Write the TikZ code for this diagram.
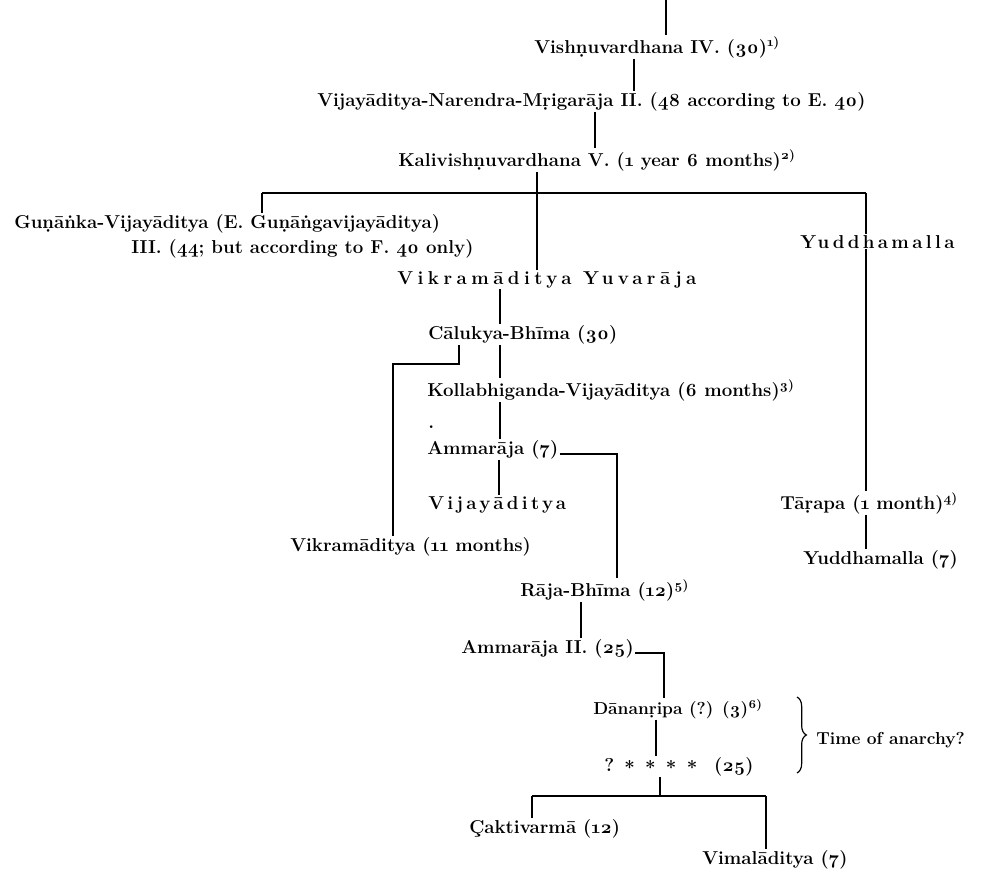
\documentclass[tikz,border=0pt]{standalone}
\usepackage{fontspec}
\setmainfont{Latin Modern Roman}[Numbers=OldStyle]
\usetikzlibrary{decorations.pathreplacing}
\newcommand{\spaced}[2][18]{{\addfontfeatures{LetterSpace=#1}#2}}
\newcommand{\stt}{\hspace{.55em}\raisebox{-0.45ex}{*}}
\tikzset{
  gen/.style={anchor=base west, inner sep=0.75pt, font=\fontsize{14}{16}\selectfont\bfseries},
  gensmall/.style={gen, font=\fontsize{13}{15}\selectfont\bfseries},
  tree/.style={line width=0.9pt},
}
\begin{document}
\begin{tikzpicture}[x=0.75pt,y=0.75pt,yscale=-1,xscale=1]
	\useasboundingbox (0,0) rectangle (990,872);
	
	% Text Node
	\draw (533,53) node [gen] (vish) {Vishṇuvardhana IV. (30)\textsuperscript{1)}};
	% Text Node
	\draw (316,106) node [gen] (narendra) {Vijayāditya-Narendra-Mṛigarāja II. (48 according to E. 40)};
	% Text Node
	\draw (397,166) node [gen] (kali) {Kalivishṇuvardhana V. (1 year 6 months)\textsuperscript{2)}};
	% Text Node
	\draw (13,228) node [gen] (guna) {Guṇāṅka-Vijayāditya (E. Guṇāṅgavijayāditya)};
	% Text Node
	\draw (130,253) node [gen] (gunb) {III. (44; but according to F. 40 only)};
	% Text Node
	\draw (396,284) node [gen] (yuvaraja) {\spaced[24]{Vikramāditya Yuvarāja}};
	% Text Node
	\draw (799,248) node [gen] (yudd) {\spaced{Yuddhamalla}};
	% Text Node
	\draw (427,339) node [gen] (calukya) {Cālukya-Bhīma (30)};
	% Text Node
	\draw (426,396) node [gen] (kolla) {Kollabhiganda-Vijayāditya (6 months)\textsuperscript{3)}};
	% Text Node
	\draw (427,428) node [gen] (dot) {.};
	% Text Node
	\draw (426,454) node [gen] (amma) {Ammarāja (7)};
	% Text Node
	\draw (427,509) node [gen] (vijaya) {\spaced{Vijayāditya}};
	% Text Node
	\draw (289,551) node [gen] (vikr) {Vikramāditya (11 months)};
	% Text Node
	\draw (779,509) node [gen] (tarapa) {Tāṛapa (1 month)\textsuperscript{4)}};
	% Text Node
	\draw (802,564) node [gen] (yuddb) {Yuddhamalla (7)};
	% Text Node
	\draw (519,596) node [gen] (raja) {Rāja-Bhīma (12)\textsuperscript{5)}};
	% Text Node
	\draw (460,653) node [gen] (ammb) {Ammarāja II. (25)};
	% Text Node
	\draw (592,714) node [gensmall] (dana) {Dānanṛipa (?) (3)\textsuperscript{6)}};
	% Text Node
	\draw (603,771) node [gen] (stars) {?\stt\stt\stt\stt\hspace{.9em}(25)};
	% Text Node
	\draw (815,744) node [gensmall] (anarchy) {Time of anarchy?};
	% Text Node
	\draw (468,833) node [gen] (cakti) {Çaktivarmā (12)};
	% Text Node
	\draw (701,864) node [gen] (vimala) {Vimalāditya (7)};
	
	% junctions
	\coordinate (top) at (666,0);
	\coordinate (hA) at (262,193);
	\coordinate (hM) at (537,193);
	\coordinate (hB) at (866,193);
	\coordinate (cb) at (393,364);
	\coordinate (hC) at (532,796);
	\coordinate (hN) at (660,796);
	\coordinate (hD) at (766,796);
	\coordinate (br1) at (797,697);
	\coordinate (br2) at (797,773);
	
	%Straight Lines
	\draw [tree] (top) -- (vish.north -| top);
	\draw [tree] (vish.south -| 634,0) -- (narendra.north -| 634,0);
	\draw [tree] (narendra.south -| 595,0) -- (kali.north -| 595,0);
	\draw [tree] (kali.south -| hM) -- (hM);
	\draw [tree] (hA) -- (hB);
	\draw [tree] (hA) -- (guna.north -| hA);
	\draw [tree] (hM) -- (yuvaraja.north -| hM);
	\draw [tree] (hB) -- (yudd.north -| hB);
	\draw [tree] (yudd.south -| hB) -- (tarapa.north -| hB);
	\draw [tree] (tarapa.south -| hB) -- (yuddb.north -| hB);
	\draw [tree] (yuvaraja.south -| 500,0) -- (calukya.north -| 500,0);
	\draw [tree] (calukya.south -| 459,0) |- (cb) -- (vikr.north -| cb);
	\draw [tree] (calukya.south -| 500,0) -- (kolla.north -| 500,0);
	\draw [tree] (kolla.south -| 500,0) -- (amma.north -| 500,0);
	\draw [tree] (amma.south -| 499,0) -- (vijaya.north -| 499,0);
	\draw [tree] (amma.base east) -| (raja.north -| 617,0);
	\draw [tree] (raja.south -| 581,0) -- (ammb.north -| 581,0);
	\draw [tree] (ammb.base east) -| (dana.north -| 664,0);
	\draw [tree] (dana.south -| 656,0) -- (stars.north -| 656,0);
	\draw [tree] (stars.south -| hN) -- (hN);
	\draw [tree] (hC) -- (hD);
	\draw [tree] (hC) -- (cakti.north -| hC);
	\draw [tree] (hD) -- (vimala.north -| hD);
	
	%Brace
	\draw [tree, decorate, decoration={brace, amplitude=7}] (br1) -- (br2);
	
\end{tikzpicture}
\end{document}
